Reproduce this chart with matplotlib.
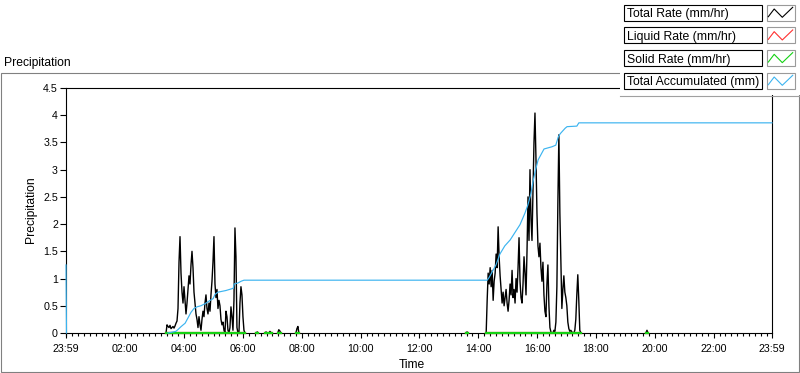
import numpy as np
import matplotlib
matplotlib.use("Agg")
import matplotlib.pyplot as plt
from matplotlib.patches import Rectangle
from matplotlib.ticker import FixedLocator, MultipleLocator, FuncFormatter

# ---- values --------------------------------------------------------------
# rain rate (mm/hr) sampled roughly every 2 minutes during the two events
EVENT1_START, EVENT1_END = "03:23", "06:04"
EVENT1_RATE = [
    0.00, 0.15, 0.12, 0.10, 0.14, 0.08, 0.10, 0.12, 0.09, 0.13, 0.18,
    0.22, 0.45, 1.30, 1.77, 1.10, 0.75, 0.55, 0.85, 0.60, 0.35,
    0.55, 0.80, 1.05, 0.90, 1.25, 1.50, 1.20, 0.75, 0.55, 0.35,
    0.25, 0.10, 0.30, 0.15, 0.05, 0.25, 0.40, 0.30, 0.55, 0.70,
    0.45, 0.35, 0.55, 0.40, 0.70, 0.95, 1.30, 1.77, 0.90, 0.65,
    0.80, 0.45, 0.60, 0.50, 0.25, 0.15, 0.20, 0.05, 0.00, 0.40,
    0.30, 0.05, 0.00, 0.10, 0.48, 0.30, 0.05, 0.60, 1.93, 1.40,
    0.10, 0.00, 0.00, 0.55, 0.85, 0.70, 0.30, 0.05, 0.00,
]
EVENT2_START, EVENT2_END = "14:16", "17:29"
EVENT2_RATE = [
    0.00, 0.60, 1.10, 0.90, 1.20, 0.85, 1.15, 0.60, 0.95, 1.10,
    1.45, 1.20, 1.95, 1.40, 1.05, 0.80, 0.55, 0.75, 0.50, 0.65,
    0.80, 0.55, 0.40, 0.60, 0.90, 0.70, 1.15, 0.65, 0.80, 0.55,
    1.00, 0.75, 1.20, 1.75, 0.95, 0.65, 0.55, 0.90, 1.40, 1.10,
    0.70, 1.50, 2.50, 1.70, 3.00, 2.10, 1.70, 2.60, 3.50, 4.04,
    3.20, 2.20, 1.60, 1.40, 1.65, 1.20, 0.95, 1.30, 0.70, 0.40,
    0.30, 0.90, 1.25, 0.50, 0.10, 0.02, 0.00, 0.00, 0.05, 0.03,
    0.20, 0.85, 2.40, 3.64, 2.20, 1.30, 0.45, 0.80, 1.05, 0.75,
    0.65, 0.50, 0.20, 0.08, 0.03, 0.05, 0.02, 0.00, 0.00, 0.05,
    0.25, 0.70, 1.07, 0.60, 0.05, 0.00,
]
# short blips outside the events
BLIP_TIMES = ["06:27", "06:29", "06:31",
              "06:45", "06:47", "06:49",
              "06:53", "06:55", "06:57", "06:59",
              "07:11", "07:13", "07:15", "07:17",
              "07:48", "07:50", "07:52", "07:54",
              "13:35", "13:37", "13:39",
              "19:42", "19:44", "19:46"]
BLIP_RATE = [0, 0.02, 0,
             0, 0.02, 0,
             0, 0.03, 0.01, 0,
             0, 0.06, 0.04, 0,
             0, 0.08, 0.12, 0,
             0, 0.02, 0,
             0, 0.05, 0]

# total accumulated (mm)
ACCUM_RESET = [1.25, 0.0]          # value at 23:59 (previous day) and at 00:00
ACCUM_TIMES = ["03:27", "03:43", "03:47", "03:54", "04:02", "04:08", "04:14",
               "04:20", "04:26", "04:34", "04:43", "04:53", "04:59", "05:03",
               "05:09", "05:25", "05:40", "05:42", "05:50", "05:56", "06:02",
               "14:18", "14:22", "14:28", "14:36", "14:44", "14:54", "15:05",
               "15:15", "15:25", "15:35", "15:41", "15:47", "15:52", "15:56",
               "16:02", "16:08", "16:14", "16:30", "16:38", "16:43", "16:47",
               "16:57", "17:01", "17:21", "17:25", "23:59"]
ACCUM_MM = [0.00, 0.03, 0.06, 0.12, 0.18, 0.28, 0.38,
            0.45, 0.48, 0.50, 0.54, 0.60, 0.63, 0.71,
            0.75, 0.78, 0.82, 0.90, 0.92, 0.95, 0.97,
            0.97, 1.02, 1.12, 1.25, 1.45, 1.60, 1.71,
            1.85, 1.99, 2.20, 2.35, 2.55, 2.80, 2.97,
            3.18, 3.28, 3.38, 3.42, 3.45, 3.60, 3.66,
            3.76, 3.79, 3.80, 3.86, 3.86]

X_TICK_LABELS = ["23:59", "02:00", "04:00", "06:00", "08:00", "10:00",
                 "12:00", "14:00", "16:00", "18:00", "20:00", "22:00", "23:59"]
Y_TICKS = [0, 0.5, 1, 1.5, 2, 2.5, 3, 3.5, 4, 4.5]

SERIES = ["Total Rate (mm/hr)", "Liquid Rate (mm/hr)",
          "Solid Rate (mm/hr)", "Total Accumulated (mm)"]
COLORS = ["#000000", "#ff3030", "#14d214", "#3cb4f0"]


def to_min(s):
    h, m = s.split(":")
    return int(h) * 60 + int(m)


def segments(times, values, gap=4):
    # put NaN between groups that are further apart than `gap` minutes
    xs, ys = [], []
    for i, (t, v) in enumerate(zip(times, values)):
        if i and t - times[i - 1] > gap:
            xs.append(np.nan)
            ys.append(np.nan)
        xs.append(t)
        ys.append(v)
    return np.array(xs, float), np.array(ys, float)


# build the rate series
t1 = np.linspace(to_min(EVENT1_START), to_min(EVENT1_END), len(EVENT1_RATE))
t2 = np.linspace(to_min(EVENT2_START), to_min(EVENT2_END), len(EVENT2_RATE))
tb = [to_min(s) for s in BLIP_TIMES]
rate_t = list(t1) + tb[:18] + list(t2) + tb[18:]
rate_v = list(EVENT1_RATE) + BLIP_RATE[:18] + list(EVENT2_RATE) + BLIP_RATE[18:]
order = np.argsort(rate_t, kind="stable")
rate_t = [rate_t[i] for i in order]
rate_v = [rate_v[i] for i in order]
rx, ry = segments(rate_t, rate_v)
zeros = np.where(np.isnan(ry), np.nan, 0.0)

acc_t = [-1, 0, np.nan] + [to_min(s) for s in ACCUM_TIMES]
acc_t[-1] = 1439
acc_v = ACCUM_RESET + [np.nan] + ACCUM_MM

W, H = 800, 373
plt.rcParams["font.family"] = ["Liberation Sans", "DejaVu Sans"]
fig = plt.figure(figsize=(W / 100, H / 100), dpi=100, facecolor="white")

ax = fig.add_axes([66 / W, 1 - 333 / H, 706 / W, (333 - 88) / H])
ax.plot(rx, ry, color=COLORS[0], lw=1.0, zorder=3, clip_on=False)
ax.plot(rx, zeros, color=COLORS[1], lw=1.6, zorder=3, clip_on=False)
ax.plot(rx, zeros, color=COLORS[2], lw=1.6, zorder=3, clip_on=False)
ax.plot(acc_t, acc_v, color=COLORS[3], lw=0.85, zorder=3, clip_on=False)

ax.set_xlim(-1, 1439)
ax.set_ylim(0, 4.5)
ax.xaxis.set_major_locator(FixedLocator([-1] + list(range(120, 1440, 120)) + [1439]))
ax.set_xticklabels(X_TICK_LABELS)
ax.xaxis.set_minor_locator(MultipleLocator(12))
ax.set_yticks(Y_TICKS)
ax.yaxis.set_major_formatter(FuncFormatter(lambda v, p: f"{v:g}"))
for sp in ax.spines.values():
    sp.set_linewidth(0.8)
    sp.set_color("black")
ax.tick_params(axis="y", direction="out", length=4.3, width=0.8, labelsize=7.7, pad=1.5)
ax.tick_params(axis="x", which="major", direction="out", length=3.6, width=0.8,
               labelsize=7.7, pad=4)
ax.tick_params(axis="x", which="minor", direction="out", length=2.0, width=0.8)

# overlay in pixel coordinates for the panel frame, labels and legend
ov = fig.add_axes([0, 0, 1, 1], zorder=5)
ov.set_xlim(0, W)
ov.set_ylim(H, 0)
ov.axis("off")
ov.patch.set_visible(False)

ov.add_patch(Rectangle((0.5, 72.5), 798, 299, fill=False, ec="#808080", lw=0.8, zorder=1))
ov.text(4, 66, "Precipitation", fontsize=8.7, va="baseline", ha="left")
ov.text(31, 210, "Precipitation", fontsize=8.7, rotation=90, va="center", ha="center")
ov.text(412, 365, "Time", fontsize=8.7, va="center", ha="center")

# legend block
ov.add_patch(Rectangle((620, 0), 180, 95, fc="white", ec="none", zorder=2))
ov.plot([620, 800], [95.5, 95.5], color="#a0a0a0", lw=0.8, zorder=3)
zig_dx = [1.6, 7.5, 15.6, 26]
zig_dy = [12, 4.3, 12.6, 2.6]
for i, (name, col) in enumerate(zip(SERIES, COLORS)):
    top = 4.7 + i * 22.67
    ov.add_patch(Rectangle((624, top), 138, 16, fc="white", ec="black", lw=0.8, zorder=3))
    ov.text(627, top + 12.7, name, fontsize=8.8, va="baseline", ha="left", zorder=4)
    ov.add_patch(Rectangle((766.7, top), 28.3, 16, fc="white", ec="#9a9a9a", lw=0.8, zorder=3))
    ov.plot([766.7 + d for d in zig_dx], [top + d for d in zig_dy], color=col, lw=0.8, zorder=4)

fig.savefig("out.png", dpi=100, facecolor="white")
